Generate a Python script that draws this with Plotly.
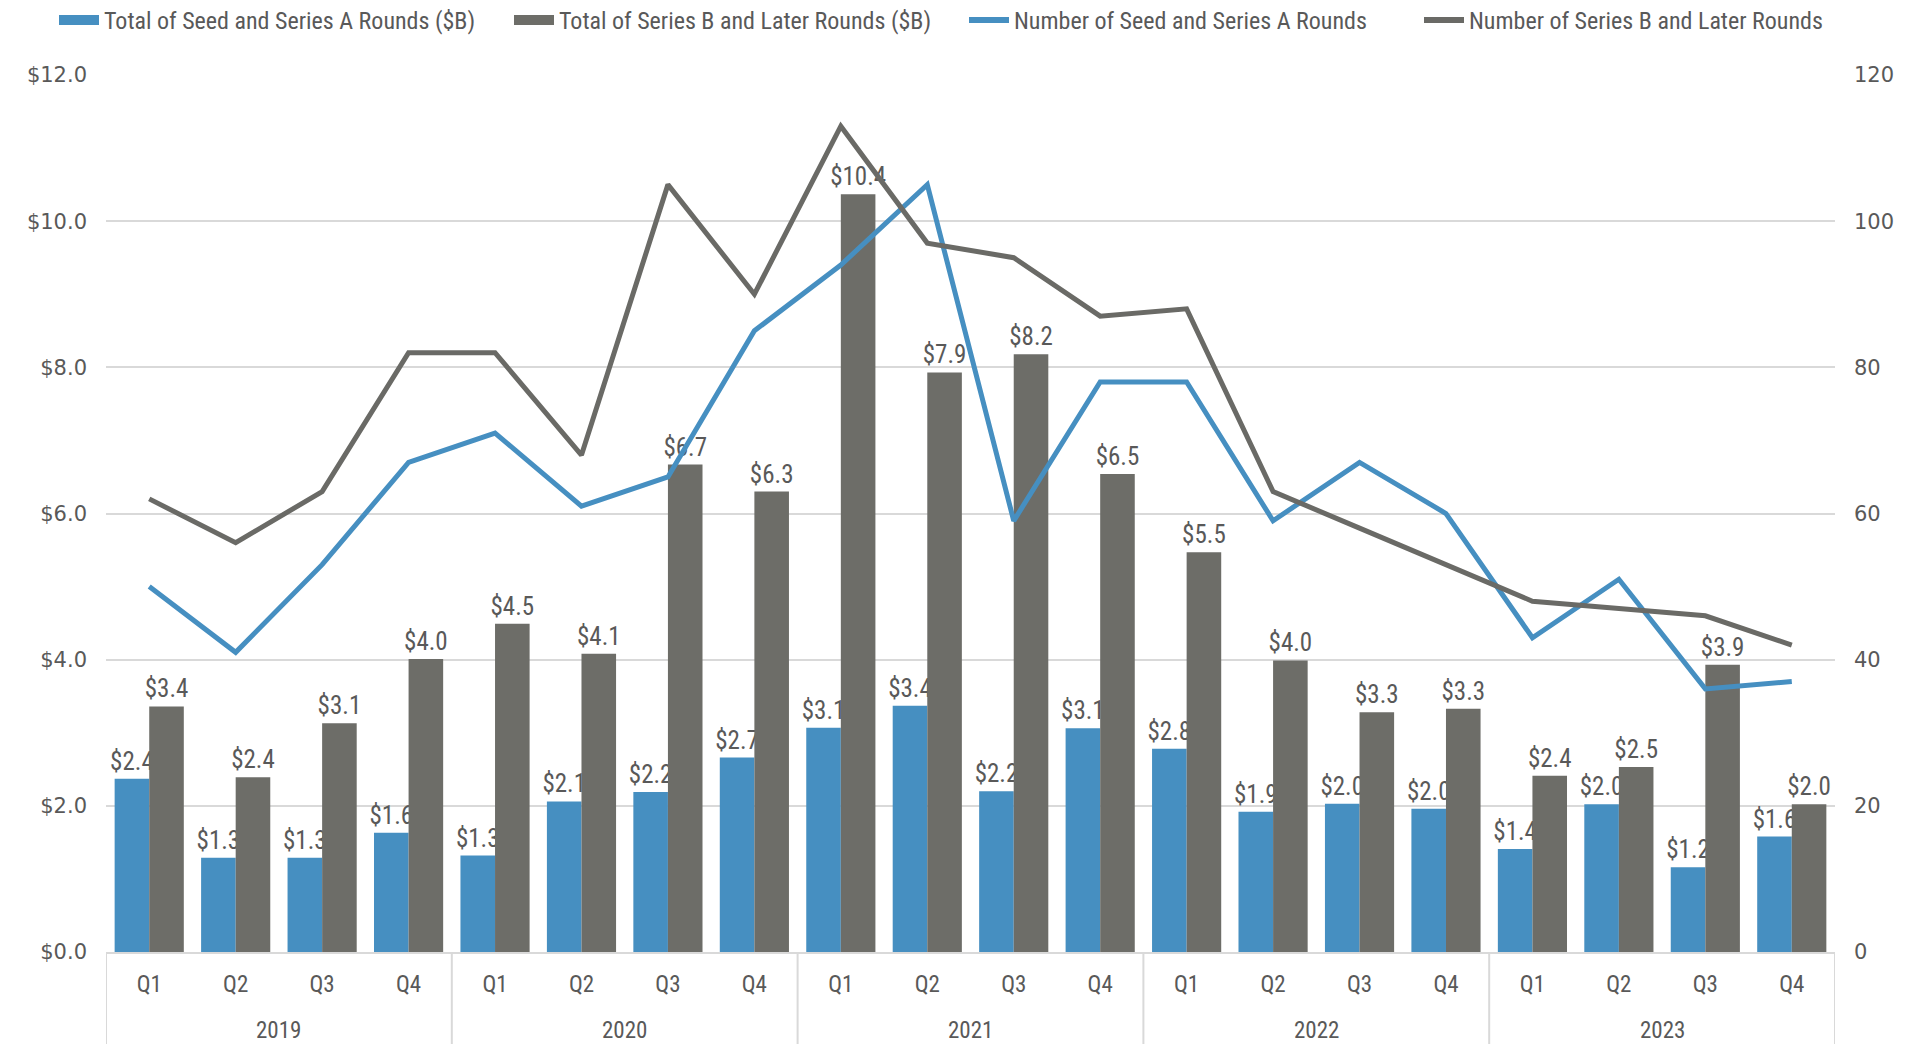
import plotly.graph_objects as go

years = ["2019"] * 4 + ["2020"] * 4 + ["2021"] * 4 + ["2022"] * 4 + ["2023"] * 4
quarters = ["Q1", "Q2", "Q3", "Q4"] * 5
year_labels = ["2019", "2020", "2021", "2022", "2023"]

seed_a_total = [2.37, 1.29, 1.29, 1.63, 1.32, 2.06, 2.19, 2.66, 3.07, 3.37, 2.2, 3.06,
                2.78, 1.92, 2.03, 1.96, 1.41, 2.02, 1.16, 1.58]
series_b_total = [3.36, 2.39, 3.13, 4.01, 4.49, 4.08, 6.67, 6.3, 10.37, 7.93, 8.18, 6.54,
                  5.47, 3.99, 3.28, 3.33, 2.41, 2.53, 3.93, 2.02]
seed_a_count = [50, 41, 53, 67, 71, 61, 65, 85, 94, 105, 59, 78,
                78, 59, 67, 60, 43, 51, 36, 37]
series_b_count = [62, 56, 63, 82, 82, 68, 105, 90, 113, 97, 95, 87,
                  88, 63, 58, 53, 48, 47, 46, 42]

BLUE = "#468FC1"
GRAY = "#6D6D68"
LGRAY = "#6A6A66"
TEXT = "#595959"
DIV = "#D9D9D9"
COND = "Liberation Sans Narrow, Roboto Condensed, Arial Narrow, sans-serif"
TICKF = "DejaVu Sans, Verdana, sans-serif"

W, H = 1923, 1036
ML, MR, MT, MB = 98, 96, 67, 92
plot_w = W - ML - MR
plot_h = H - MT - MB

idx = list(range(len(quarters)))

fig = go.Figure()
fig.add_trace(go.Bar(
    x=idx, y=seed_a_total, name="Total of Seed and Series A Rounds ($B)",
    marker=dict(color=BLUE, line=dict(width=0)), showlegend=False,
    texttemplate="$%{y:.1f}", textposition="outside", constraintext="none",
    textfont=dict(family=COND, size=25, color=TEXT), cliponaxis=False,
))
fig.add_trace(go.Bar(
    x=idx, y=series_b_total, name="Total of Series B and Later Rounds ($B)",
    marker=dict(color=GRAY, line=dict(width=0)), showlegend=False,
    texttemplate="$%{y:.1f}", textposition="outside", constraintext="none",
    textfont=dict(family=COND, size=25, color=TEXT), cliponaxis=False,
))
fig.add_trace(go.Scatter(
    x=idx, y=seed_a_count, name="Number of Seed and Series A Rounds",
    mode="lines", line=dict(color=BLUE, width=5), yaxis="y2", showlegend=False,
))
fig.add_trace(go.Scatter(
    x=idx, y=series_b_count, name="Number of Series B and Later Rounds",
    mode="lines", line=dict(color=LGRAY, width=5), yaxis="y2", showlegend=False,
))

# legend entries (swatches)
legend_items = [
    ("Total of Seed and Series A Rounds ($B)", BLUE, 15),
    ("Total of Series B and Later Rounds ($B)", GRAY, 15),
    ("Number of Seed and Series A Rounds", BLUE, 6),
    ("Number of Series B and Later Rounds", LGRAY, 6),
]
for name, color, w in legend_items:
    fig.add_trace(go.Scatter(x=[None], y=[None], mode="lines", name=name,
                             line=dict(color=color, width=w), showlegend=True))

# year labels and dividers
for k, yl in enumerate(year_labels):
    members = [i for i, y in enumerate(years) if y == yl]
    fig.add_annotation(x=sum(members) / len(members), y=-78 / plot_h, xref="x", yref="paper",
                       text=yl, showarrow=False, yanchor="middle",
                       font=dict(family=COND, size=23, color=TEXT))
    left = min(members) - 0.5
    fig.add_shape(type="line", x0=left, x1=left, y0=0, y1=-MB / plot_h, xref="x", yref="paper",
                  line=dict(color=DIV, width=2))
last = len(idx) - 0.5
fig.add_shape(type="line", x0=last, x1=last, y0=0, y1=-MB / plot_h, xref="x", yref="paper",
              line=dict(color=DIV, width=2))

fig.update_layout(
    width=W, height=H,
    margin=dict(l=ML, r=MR, t=MT, b=MB, autoexpand=False),
    paper_bgcolor="white", plot_bgcolor="white",
    barmode="group", bargap=0.2, bargroupgap=0.0,
    font=dict(family=COND, color=TEXT, size=23),
    showlegend=True,
    legend=dict(orientation="h", x=(46 - ML) / plot_w, xanchor="left",
                y=1 + (MT + 10) / plot_h, yanchor="top",
                font=dict(family=COND, size=24, color=TEXT),
                itemwidth=40, traceorder="normal", bgcolor="rgba(0,0,0,0)",
                entrywidth=400, entrywidthmode="pixels"),
    xaxis=dict(range=[-0.5, len(idx) - 0.5], tickvals=idx, ticktext=quarters,
               showline=True, linecolor=DIV, linewidth=2, showgrid=False, zeroline=False,
               tickfont=dict(family=COND, size=23, color=TEXT), ticks="",
               ticklabelstandoff=10, automargin=False),
    yaxis=dict(range=[0, 12], tickvals=[0, 2, 4, 6, 8, 10, 12],
               ticktext=["$0.0", "$2.0", "$4.0", "$6.0", "$8.0", "$10.0", "$12.0"],
               showgrid=True, gridcolor=DIV, gridwidth=2, zeroline=False,
               tickfont=dict(family=TICKF, size=21, color=TEXT), ticklabelstandoff=18,
               automargin=False),
    yaxis2=dict(range=[0, 120], tickvals=[0, 20, 40, 60, 80, 100, 120],
                overlaying="y", side="right", showgrid=False, zeroline=False,
                tickfont=dict(family=TICKF, size=21, color=TEXT), ticklabelstandoff=18,
                automargin=False),
)

fig.write_html("out.html")
